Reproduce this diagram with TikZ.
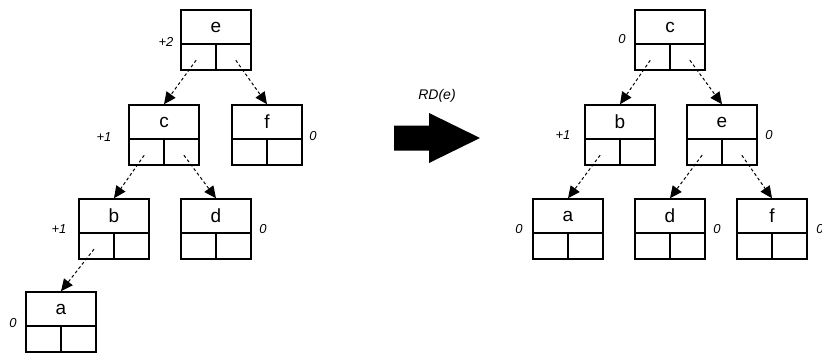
\documentclass[tikz,border=0pt]{standalone}
\usepackage{fontspec}
\setmainfont{Liberation Sans}
\usepackage{tikz}
\usetikzlibrary{arrows.meta}

\begin{document}
\begin{tikzpicture}[x=1pt,y=-1pt,
  keycell/.style={draw,line width=1.5pt,minimum width=70pt,minimum height=34pt,inner sep=0pt,font=\fontsize{19}{21}\selectfont},
  ptrcell/.style={draw,line width=1.5pt,minimum width=35pt,minimum height=26pt,inner sep=0pt},
  bal/.style={font=\fontsize{13}{15}\selectfont\itshape,inner sep=0pt},
  ptr/.style={line width=1pt,dash pattern=on 3pt off 2.5pt,shorten <=4pt,-{Triangle[length=12pt,width=11pt]}},
  avl/.pic={
    \node[keycell] (-key) at (35,17) {#1};
    \node[ptrcell] (-left) at (17.5,47) {};
    \node[ptrcell] (-right) at (52.5,47) {};
  }]
  \useasboundingbox (0,0) rectangle (822,353);

  %before
  \pic (pre-e) at (181,10) {avl=e};
  \pic (pre-c) at (129,105) {avl=c};
  \pic (pre-f) at (232,105) {avl=f};
  \pic (pre-b) at (79,199) {avl=b};
  \pic (pre-d) at (181,199) {avl=d};
  \pic (pre-a) at (26,292) {avl=a};
  \node[bal] (bal-pre-e) at (166,42) {+2};
  \node[bal] (bal-pre-c) at (104,137) {+1};
  \node[bal] (bal-pre-f) at (313,136) {0};
  \node[bal] (bal-pre-b) at (59,229) {+1};
  \node[bal] (bal-pre-d) at (263,229) {0};
  \node[bal] (bal-pre-a) at (13,323) {0};
  \draw[ptr] (pre-e-left.center) -- (pre-c-key.north);
  \draw[ptr] (pre-e-right.center) -- (pre-f-key.north);
  \draw[ptr] (pre-c-left.center) -- (pre-b-key.north);
  \draw[ptr] (pre-c-right.center) -- (pre-d-key.north);
  \draw[ptr] (pre-b-left.center) -- (pre-a-key.north);

  %rotation
  \node[font=\fontsize{14}{16}\selectfont\itshape] (rot) at (437,96) {RD(e)};
  \fill (394,125.5) -- (429,125.5) -- (429,113) -- (480,138) -- (429,163) -- (429,150.5) -- (394,150.5) -- cycle;

  %after
  \pic (post-c) at (635,10) {avl=c};
  \pic (post-b) at (585,105) {avl=b};
  \pic (post-e) at (687,105) {avl=e};
  \pic (post-a) at (533,199) {avl=a};
  \pic (post-d) at (635,199) {avl=d};
  \pic (post-f) at (737,199) {avl=f};
  \node[bal] (bal-post-c) at (622,39) {0};
  \node[bal] (bal-post-b) at (563,135) {+1};
  \node[bal] (bal-post-e) at (769,135) {0};
  \node[bal] (bal-post-a) at (519,229) {0};
  \node[bal] (bal-post-d) at (717,229) {0};
  \node[bal] (bal-post-f) at (820,229) {0};
  \draw[ptr] (post-c-left.center) -- (post-b-key.north);
  \draw[ptr] (post-c-right.center) -- (post-e-key.north);
  \draw[ptr] (post-b-left.center) -- (post-a-key.north);
  \draw[ptr] (post-e-left.center) -- (post-d-key.north);
  \draw[ptr] (post-e-right.center) -- (post-f-key.north);
\end{tikzpicture}
\end{document}
